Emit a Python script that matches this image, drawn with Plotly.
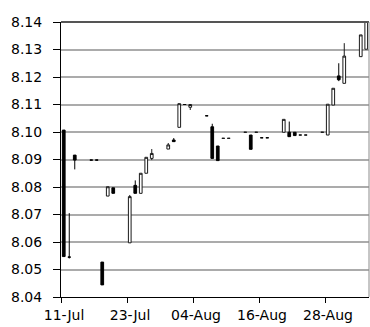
import pandas as pd
import plotly.graph_objects as go

# Trading days (2012) and OHLC values
dates = ["2012-07-11", "2012-07-12", "2012-07-13", "2012-07-16", "2012-07-17",
         "2012-07-18", "2012-07-19", "2012-07-20", "2012-07-23", "2012-07-24",
         "2012-07-25", "2012-07-26", "2012-07-27", "2012-07-30", "2012-07-31",
         "2012-08-01", "2012-08-02", "2012-08-03", "2012-08-06", "2012-08-07",
         "2012-08-08", "2012-08-09", "2012-08-10", "2012-08-13", "2012-08-14",
         "2012-08-15", "2012-08-16", "2012-08-17", "2012-08-20", "2012-08-21",
         "2012-08-22", "2012-08-23", "2012-08-24", "2012-08-27", "2012-08-28",
         "2012-08-29", "2012-08-30", "2012-08-31", "2012-09-03", "2012-09-04"]
opens = [8.1007, 8.0545, 8.0916, 8.0898, 8.0898,
         8.0527, 8.0767, 8.0797, 8.0597, 8.0806,
         8.0777, 8.0850, 8.0904, 8.0938, 8.0971,
         8.1017, 8.1100, 8.1090, 8.1059, 8.1019,
         8.0949, 8.0977, 8.0977, 8.0999, 8.0989,
         8.0999, 8.0979, 8.0979, 8.0999, 8.0999,
         8.0999, 8.0989, 8.0989, 8.0999, 8.0989,
         8.1098, 8.1204, 8.1177, 8.1274, 8.1301]
highs = [8.1007, 8.0705, 8.0916, 8.0898, 8.0898,
         8.0527, 8.0801, 8.0797, 8.0771, 8.0824,
         8.0850, 8.0908, 8.0938, 8.0960, 8.0978,
         8.1103, 8.1100, 8.1101, 8.1059, 8.1030,
         8.0949, 8.0977, 8.0977, 8.0999, 8.0989,
         8.0999, 8.0979, 8.0979, 8.1046, 8.1038,
         8.0999, 8.0989, 8.0989, 8.0999, 8.1101,
         8.1159, 8.1250, 8.1323, 8.1353, 8.1425]
lows = [8.0547, 8.0540, 8.0864, 8.0898, 8.0898,
        8.0444, 8.0767, 8.0777, 8.0597, 8.0777,
        8.0777, 8.0850, 8.0898, 8.0938, 8.0965,
        8.1017, 8.1100, 8.1080, 8.1059, 8.0904,
        8.0896, 8.0977, 8.0977, 8.0999, 8.0937,
        8.0999, 8.0979, 8.0979, 8.0999, 8.0983,
        8.0987, 8.0989, 8.0989, 8.0999, 8.0989,
        8.1098, 8.1185, 8.1177, 8.1274, 8.1301]
closes = [8.0547, 8.0545, 8.0898, 8.0898, 8.0898,
          8.0444, 8.0801, 8.0777, 8.0765, 8.0777,
          8.0850, 8.0908, 8.0922, 8.0953, 8.0965,
          8.1103, 8.1100, 8.1100, 8.1059, 8.0904,
          8.0896, 8.0977, 8.0977, 8.0999, 8.0937,
          8.0999, 8.0979, 8.0979, 8.1046, 8.0983,
          8.0987, 8.0989, 8.0989, 8.0999, 8.1101,
          8.1159, 8.1190, 8.1276, 8.1353, 8.1425]

tick_dates = ["2012-07-11", "2012-07-23", "2012-08-04", "2012-08-16", "2012-08-28"]
tick_labels = ["11-Jul", "23-Jul", "04-Aug", "16-Aug", "28-Aug"]
y_ticks = [8.04, 8.05, 8.06, 8.07, 8.08, 8.09, 8.10, 8.11, 8.12, 8.13, 8.14]

x = pd.to_datetime(dates)
tick_pos = pd.to_datetime(tick_dates) - pd.Timedelta(hours=12)

fig = go.Figure(go.Candlestick(
    x=x, open=opens, high=highs, low=lows, close=closes,
    increasing=dict(line=dict(color="#1a1a1a", width=1), fillcolor="white"),
    decreasing=dict(line=dict(color="#000000", width=1), fillcolor="black"),
    whiskerwidth=0, showlegend=False,
))

font = dict(family="DejaVu Sans", size=14, color="black")
fig.update_layout(
    width=370, height=327,
    margin=dict(l=61, r=1, t=22, b=30),
    paper_bgcolor="white", plot_bgcolor="white",
    font=font,
    showlegend=False,
    boxgap=0.3,
    xaxis=dict(
        type="date",
        range=[pd.Timestamp("2012-07-10 12:00"), pd.Timestamp("2012-09-04 12:00")],
        rangeslider=dict(visible=False),
        tickvals=list(tick_pos), ticktext=tick_labels,
        ticks="outside", ticklen=5, tickcolor="black", tickwidth=1,
        ticklabelshift=3,
        showline=True, linecolor="black", linewidth=1,
        showgrid=False, zeroline=False,
        tickfont=font,
    ),
    yaxis=dict(
        range=[8.04, 8.14],
        tickvals=y_ticks, tickformat=".2f",
        ticks="outside", ticklen=7, tickcolor="black", tickwidth=1,
        ticklabelstandoff=8,
        showline=True, linecolor="black", linewidth=1,
        showgrid=True, gridcolor="#ababab", gridwidth=2,
        zeroline=False,
        tickfont=font,
    ),
    shapes=[
        dict(type="line", xref="paper", yref="paper", x0=0, x1=1, y0=1, y1=1,
             line=dict(color="#555555", width=2), layer="above"),
        dict(type="line", xref="paper", yref="paper", x0=1, x1=1, y0=0, y1=1,
             line=dict(color="#8c8c8c", width=1), layer="above"),
    ],
)

fig.write_html(
    "out.html",
    config={"displayModeBar": False},
    post_script="document.body.style.margin='0';document.body.style.overflow='hidden';",
)
